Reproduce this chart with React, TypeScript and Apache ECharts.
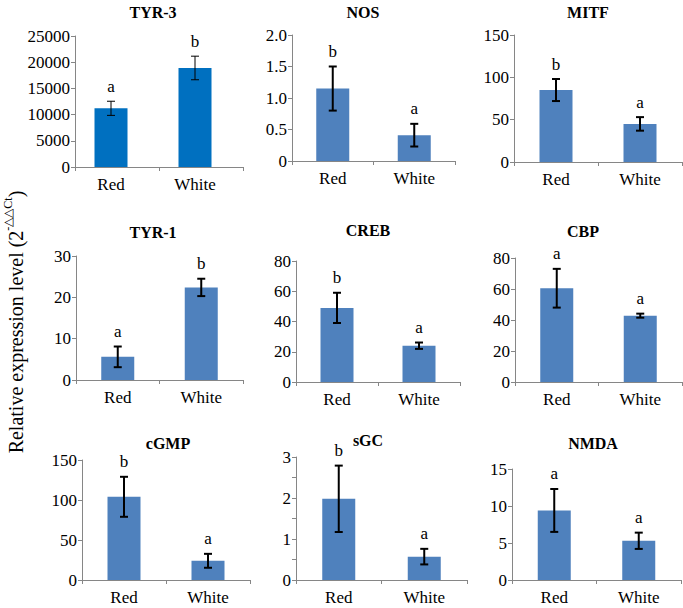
import React, { useEffect, useRef } from "react";
import * as echarts from "echarts";

const categories = ["Red", "White"];
const genes = ["TYR-3", "NOS", "MITF", "TYR-1", "CREB", "CBP", "cGMP", "sGC", "NMDA"];
const redMeans = [11200, 1.15, 85, 5.6, 49, 60.5, 104, 1.98, 9.4];
const whiteMeans = [18900, 0.41, 45, 22.4, 24, 42.8, 24, 0.57, 5.3];
const redErr = [1350, 0.35, 13, 2.5, 10, 12.5, 25, 0.81, 2.9];
const whiteErr = [2250, 0.18, 8, 2.1, 2.1, 1.3, 8.7, 0.19, 1.1];
const redLetters = ["a", "b", "b", "a", "b", "a", "b", "b", "a"];
const whiteLetters = ["b", "a", "a", "b", "a", "a", "a", "a", "a"];
const yMax = [25000, 2, 150, 30, 80, 80, 150, 3, 15];
const yInterval = [5000, 0.5, 50, 10, 20, 20, 50, 1, 5];
const yDecimals = [0, 1, 0, 0, 0, 0, 0, 0, 0];

// layout: [left, top, width, height], title [x, y], horizontal shift of bars
const grids = [
  [75, 36, 168, 131],
  [292, 35, 163, 126],
  [514, 35, 168, 127],
  [76, 256, 167, 124],
  [296, 261, 164, 121],
  [515, 258, 167, 124],
  [82, 460, 168, 120],
  [296, 457, 171, 123],
  [512, 469, 169, 111],
];
const titlePos = [
  [153, 12], [363, 12], [588, 12],
  [153, 232], [368, 230], [583, 231],
  [168, 443], [368, 440], [593, 443],
];
const shift = [-6, 0, 0, 0, 0, 0, 0, 0, 0];

const FONT = "Liberation Serif";

export default function App() {
  const ref = useRef<HTMLDivElement>(null);
  useEffect(() => {
    if (!ref.current) return;
    const chart = echarts.init(ref.current, undefined, { renderer: "svg" });
    const grid: any[] = [];
    const xAxis: any[] = [];
    const yAxis: any[] = [];
    const series: any[] = [];
    const graphic: any[] = [];
    genes.forEach((g, i) => {
      const [l, t, w, h] = grids[i];
      const sh = shift[i];
      grid.push({ left: l, top: t, width: w, height: h });
      xAxis.push({
        type: "category",
        gridIndex: i,
        data: categories,
        axisLine: { lineStyle: { color: "#868686", width: 1 } },
        axisTick: { show: true, alignWithLabel: false, length: 4, lineStyle: { color: "#868686" } },
        axisLabel: {
          color: "#000",
          fontFamily: FONT,
          fontSize: 17,
          margin: 9,
          padding: sh < 0 ? [0, -2 * sh, 0, 0] : 0,
        },
      });
      yAxis.push({
        type: "value",
        gridIndex: i,
        min: 0,
        max: yMax[i],
        interval: yInterval[i],
        axisLine: { show: true, lineStyle: { color: "#868686", width: 1 } },
        axisTick: { show: true, length: 4, lineStyle: { color: "#868686" } },
        minorTick: { show: g === "sGC", splitNumber: 2, length: 4, lineStyle: { color: "#868686" } },
        splitLine: { show: false },
        axisLabel: {
          color: "#000",
          fontFamily: FONT,
          fontSize: 17,
          margin: 5,
          formatter: (v: number) => (v === 0 ? "0" : v.toFixed(yDecimals[i])),
        },
      });
      series.push({
        type: "bar",
        xAxisIndex: i,
        yAxisIndex: i,
        barWidth: 33,
        barGap: "0%",
        data: [redMeans[i], whiteMeans[i]],
        itemStyle: { color: i === 0 ? "#0070C0" : "#4F81BD" },
        silent: true,
      });
      if (sh < 0) {
        series.push({
          type: "bar",
          xAxisIndex: i,
          yAxisIndex: i,
          barWidth: -2 * sh,
          barGap: "0%",
          data: [null, null],
          silent: true,
        });
      }
      const lw = i === 0 ? 1 : 2;
      series.push({
        type: "custom",
        xAxisIndex: i,
        yAxisIndex: i,
        data: [
          [0, redMeans[i], redErr[i]],
          [1, whiteMeans[i], whiteErr[i]],
        ],
        renderItem: (params: any, api: any) => {
          const x = api.value(0);
          const m = api.value(1);
          const e = api.value(2);
          const idx = params.dataIndex;
          const letter = idx === 0 ? redLetters[i] : whiteLetters[i];
          const top = api.coord([x, m + e]);
          const bot = api.coord([x, m - e]);
          const cx = top[0] + sh;
          const cw = 4;
          const st = { stroke: "#000", lineWidth: lw };
          return {
            type: "group",
            children: [
              { type: "line", shape: { x1: cx, y1: top[1], x2: cx, y2: bot[1] }, style: st },
              { type: "line", shape: { x1: cx - cw, y1: top[1], x2: cx + cw, y2: top[1] }, style: st },
              { type: "line", shape: { x1: cx - cw, y1: bot[1], x2: cx + cw, y2: bot[1] }, style: st },
              {
                type: "text",
                x: cx,
                y: top[1] - 15,
                style: {
                  text: letter,
                  fill: "#000",
                  fontFamily: FONT,
                  fontSize: 17,
                  align: "center",
                  verticalAlign: "middle",
                },
              },
            ],
          };
        },
        silent: true,
        z: 5,
      });
      graphic.push({
        type: "text",
        x: titlePos[i][0],
        y: titlePos[i][1],
        style: {
          text: g,
          fill: "#000",
          fontFamily: FONT,
          fontWeight: "bold",
          fontSize: 16,
          align: "center",
          verticalAlign: "middle",
        },
      });
    });
    graphic.push({
      type: "text",
      x: 14,
      y: 322,
      rotation: Math.PI / 2,
      style: {
        text: "{b|Relative expression level (2}{s|-△△Ct}{b|)}",
        align: "center",
        verticalAlign: "middle",
        rich: {
          b: { fontFamily: FONT, fontSize: 20, fill: "#000", lineHeight: 24, verticalAlign: "bottom" },
          s: { fontFamily: FONT, fontSize: 12, fill: "#000", lineHeight: 24, verticalAlign: "top" },
        },
      },
    });
    chart.setOption({ animation: false, grid, xAxis, yAxis, series, graphic });
    return () => chart.dispose();
  }, []);
  return <div ref={ref} style={{ width: 683, height: 608, position: "absolute", left: 0, top: 0 }} />;
}
